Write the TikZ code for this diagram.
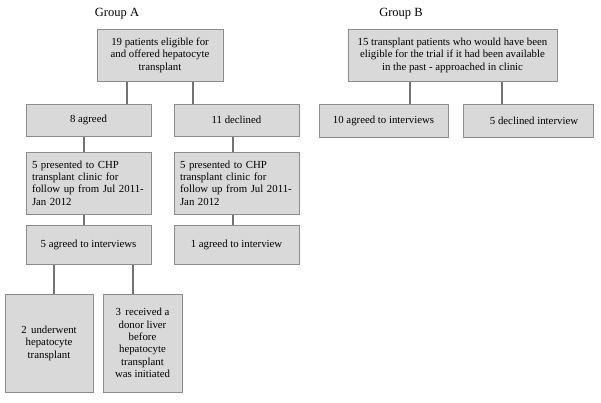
\documentclass[tikz,border=0pt]{standalone}
\usepackage{fontspec}
\setmainfont{Liberation Serif}
\definecolor{boxfill}{RGB}{217,217,217}
\definecolor{boxline}{RGB}{140,140,140}
\definecolor{linkline}{RGB}{115,115,115}

\begin{document}
\begin{tikzpicture}[x=1pt, y=-1pt]
\tikzstyle{every node}=[font=\fontsize{10.8}{12.4}\selectfont, inner sep=0pt];
\tikzstyle{box}=[draw=boxline, fill=boxfill, line width=1pt, align=center];
\tikzstyle{link}=[draw=linkline, line width=2pt];
\tikzstyle{heading}=[font=\fontsize{12.5}{14}\selectfont];
\useasboundingbox (0,0) rectangle (601,402);
\fill[white] (0,0) rectangle (601,402);
% Group A
\node [heading] (headA) at (117,14) {Group A};
\node [box, minimum width=126, minimum height=52] (eligA) at (160,55)
  {19 patients eligible for\\and offered hepatocyte\\transplant};
\node [box, minimum width=125, minimum height=32] (agreed) at (88.5,120) {8 agreed};
\node [box, minimum width=125, minimum height=32] (declined) at (236.5,120) {11 declined};
\node [box, minimum width=125, minimum height=62, align=left, text width=113] (presL) at (88.5,183)
  {5 presented to CHP\\transplant clinic for\\follow up from Jul 2011-\\Jan 2012};
\node [box, minimum width=125, minimum height=62, align=left, text width=113] (presR) at (236.5,183)
  {5 presented to CHP\\transplant clinic for\\follow up from Jul 2011-\\Jan 2012};
\node [box, minimum width=125, minimum height=39] (intL) at (88.5,244.5) {5 agreed to interviews};
\node [box, minimum width=125, minimum height=39] (intR) at (236.5,244.5) {1 agreed to interview};
\node [box, minimum width=88, minimum height=98] (under) at (49,343)
  {2\, underwent\\hepatocyte\\transplant};
\node [box, minimum width=79, minimum height=98] (donor) at (142.5,343)
  {3\, received a\\donor liver\\before\\hepatocyte\\transplant\\was initiated};
% Group B
\node [heading] (headB) at (401,14) {Group B};
\node [box, minimum width=209, minimum height=52] (eligB) at (452.5,55)
  {15 transplant patients who would have been\\eligible for the trial if it had been available\\in the past - approached in clinic};
\node [box, minimum width=129, minimum height=33] (agreedB) at (383.5,120.5) {10 agreed to interviews};
\node [box, minimum width=130, minimum height=33] (declinedB) at (528,120.5) {\hspace{12pt}5 declined interview};
% connectors
\draw [link] ([xshift=-33]eligA.south) -- ([xshift=-33]eligA.south |- agreed.north);
\draw [link] ([xshift=33]eligA.south) -- ([xshift=33]eligA.south |- declined.north);
\draw [link] ([xshift=-4.5]agreed.south) -- ([xshift=-4.5]agreed.south |- presL.north);
\draw [link] ([xshift=-3.5]declined.south) -- ([xshift=-3.5]declined.south |- presR.north);
\draw [link] ([xshift=-4.5]presL.south) -- ([xshift=-4.5]presL.south |- intL.north);
\draw [link] ([xshift=-3.5]presR.south) -- ([xshift=-3.5]presR.south |- intR.north);
\draw [link] ([xshift=-34.5]intL.south) -- ([xshift=-34.5]intL.south |- under.north);
\draw [link] ([xshift=44.5]intL.south) -- ([xshift=44.5]intL.south |- donor.north);
\draw [link] ([xshift=-42.5]eligB.south) -- ([xshift=-42.5]eligB.south |- agreedB.north);
\draw [link] ([xshift=49.5]eligB.south) -- ([xshift=49.5]eligB.south |- declinedB.north);
\end{tikzpicture}
\end{document}
